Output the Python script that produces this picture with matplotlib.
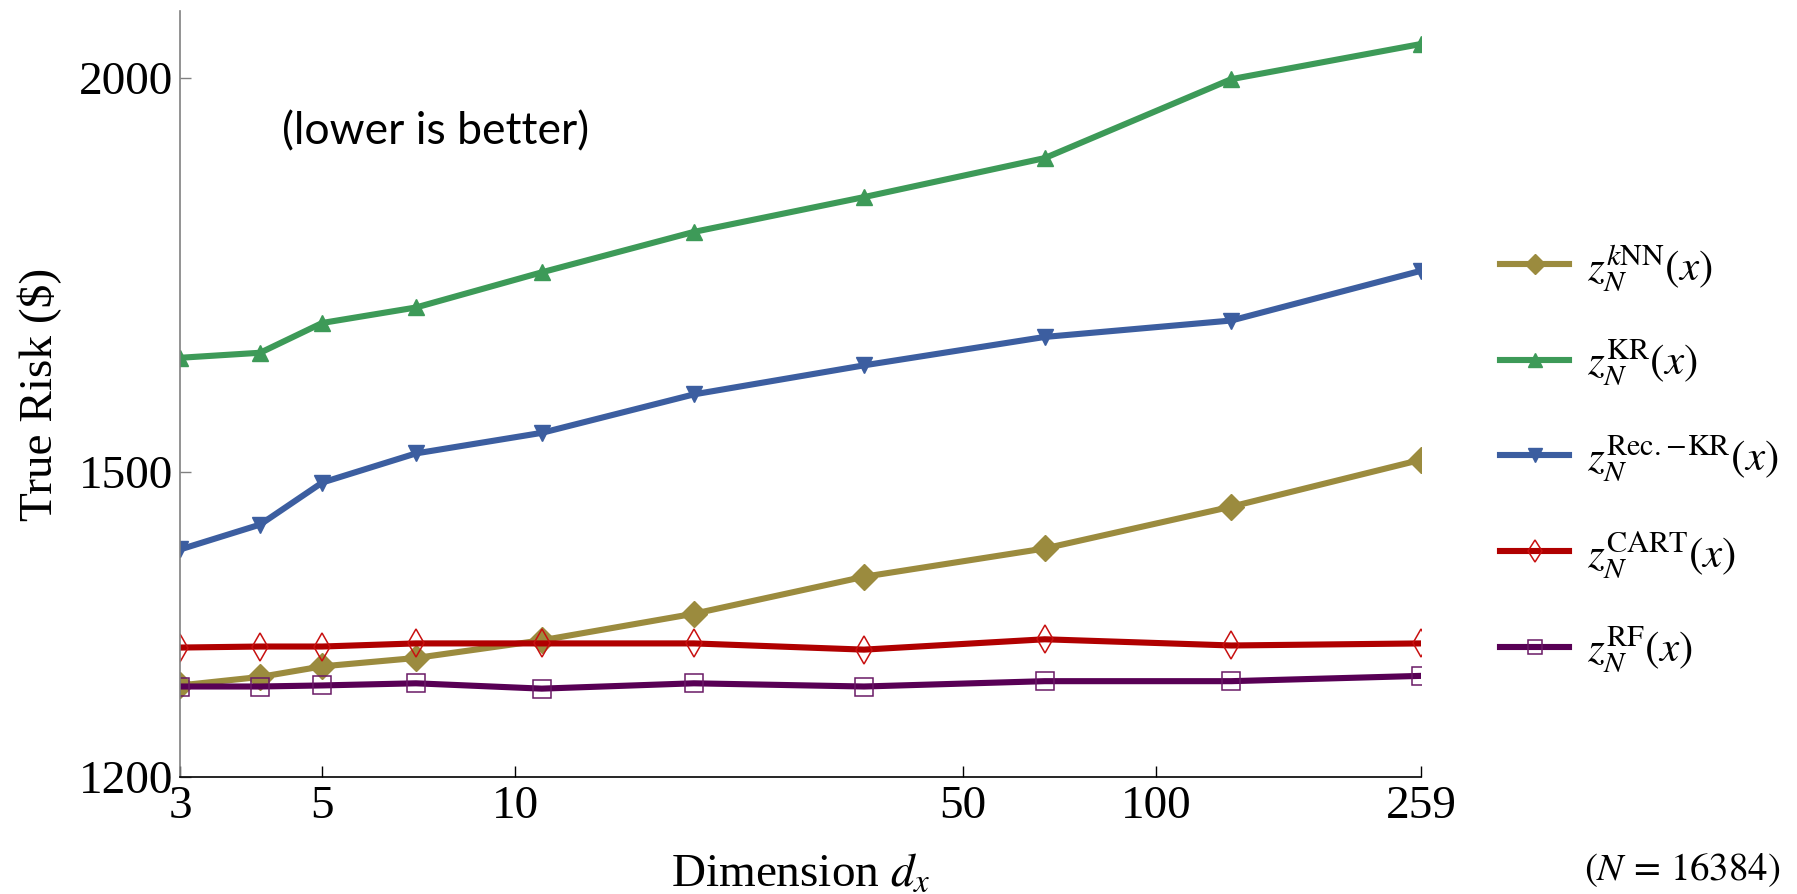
import matplotlib
matplotlib.use("Agg")
import matplotlib.pyplot as plt
from matplotlib.ticker import FixedLocator, NullLocator

plt.rcParams["font.family"] = ["Liberation Serif", "DejaVu Serif"]
plt.rcParams["mathtext.fontset"] = "stix"

# -----------------------------
# DATA
# -----------------------------

dims = [3, 4, 5, 7, 11, 19, 35, 67, 131, 259]

risk_knn = [1283, 1291, 1301, 1309, 1326, 1352, 1389, 1418, 1462, 1513]
risk_kr = [1630, 1636, 1672, 1691, 1735, 1787, 1833, 1886, 1998, 2050]
risk_reckr = [1417, 1443, 1488, 1520, 1543, 1587, 1621, 1655, 1675, 1737]
risk_cart = [1319, 1320, 1320, 1323, 1323, 1323, 1317, 1327, 1321, 1323]
risk_rf = [1282, 1282, 1283, 1285, 1280, 1285, 1282, 1287, 1287, 1292]

x_ticks = [3, 5, 10, 50, 100, 259]
y_ticks = [1200, 1500, 2000]

labels = [
    r"$z_N^{k\mathrm{NN}}(x)$",
    r"$z_N^{\mathrm{KR}}(x)$",
    r"$z_N^{\mathrm{Rec.\!-\!KR}}(x)$",
    r"$z_N^{\mathrm{CART}}(x)$",
    r"$z_N^{\mathrm{RF}}(x)$",
]

# -----------------------------
# PLOT
# -----------------------------

fig = plt.figure(figsize=(17.97, 8.94), dpi=100)
ax = fig.add_axes([0.1002, 0.1309, 0.6906, 0.8568])

lw = 4.4
ax.plot(dims, risk_knn, color="#9b8b3e", lw=lw, marker="D", ms=13,
        label=labels[0])
ax.plot(dims, risk_kr, color="#3d9a58", lw=lw, marker="^", ms=12,
        label=labels[1])
ax.plot(dims, risk_reckr, color="#3c5ea0", lw=lw, marker="v", ms=12,
        label=labels[2])
ax.plot(dims, risk_cart, color="#b00000", lw=lw, marker="d", ms=14,
        mfc="none", mec="#c81010", mew=1.1, label=labels[3])
ax.plot(dims, risk_rf, color="#580055", lw=lw, marker="s", ms=13,
        mfc="none", mec="#6a1a66", mew=1.1, label=labels[4])

ax.set_xscale("log")
ax.set_yscale("log")
ax.set_xlim(3, 259)
ax.set_ylim(1200, 2100)

ax.xaxis.set_major_locator(FixedLocator(x_ticks))
ax.xaxis.set_minor_locator(NullLocator())
ax.set_xticklabels([str(t) for t in x_ticks])
ax.yaxis.set_major_locator(FixedLocator(y_ticks))
ax.yaxis.set_minor_locator(NullLocator())
ax.set_yticklabels([str(t) for t in y_ticks])

ax.spines["top"].set_visible(False)
ax.spines["right"].set_visible(False)
ax.spines["left"].set_color("#808080")
ax.spines["left"].set_linewidth(1.2)
ax.spines["bottom"].set_color("black")
ax.spines["bottom"].set_linewidth(1.2)

ax.tick_params(axis="x", direction="in", length=8, width=1, color="black",
               labelsize=34, pad=6)
ax.tick_params(axis="y", direction="in", length=8, width=1, color="#808080",
               labelsize=34, pad=5)

ax.set_xlabel(r"Dimension $d_x$", fontsize=34)
ax.xaxis.set_label_coords(0.5, -0.10)
ax.set_ylabel("True Risk ($)", fontsize=34)
ax.yaxis.set_label_coords(-0.095, 0.5)

ax.text(0.206, 0.842, "(lower is better)", transform=ax.transAxes,
        fontsize=32, family="Lato", ha="center", va="center")

fig.text(0.991, 0.016, r"$(N\,{=}\,16384)$", fontsize=28, ha="right",
         va="baseline")

fig.legend(loc="center left", bbox_to_anchor=(0.835, 0.487),
           frameon=False, fontsize=31, handlelength=1.6,
           handletextpad=0.4, labelspacing=1.05, borderpad=0,
           borderaxespad=0, markerscale=0.8)

fig.savefig("out.png", dpi=100)
